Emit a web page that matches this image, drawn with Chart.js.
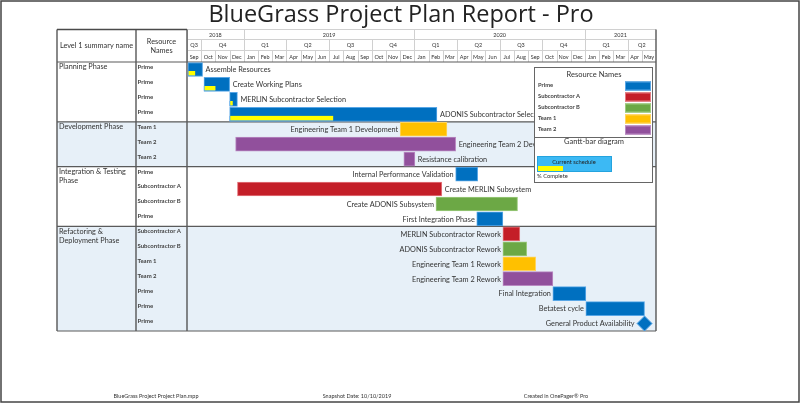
<!DOCTYPE html>
<html>
<head>
<meta charset="utf-8">
<script src="https://cdn.jsdelivr.net/npm/chart.js@4.4.1/dist/chart.umd.min.js"></script>
<style>
  html, body { margin: 0; padding: 0; background: #fff; }
  #wrap { width: 800px; height: 403px; }
</style>
</head>
<body>
<div id="wrap"><canvas id="gantt" width="800" height="403"></canvas></div>
<script>
// --- data ---
const phaseNames = ["Planning Phase", "Development Phase", "Integration & Testing Phase", "Refactoring & Deployment Phase"];
const phaseRowCounts = [4, 3, 4, 7];

const taskNames = [
  "Assemble Resources", "Create Working Plans", "MERLIN Subcontractor Selection", "ADONIS Subcontractor Selection",
  "Engineering Team 1 Development", "Engineering Team 2 Development", "Resistance calibration",
  "Internal Performance Validation", "Create MERLIN Subsystem", "Create ADONIS Subsystem", "First Integration Phase",
  "MERLIN Subcontractor Rework", "ADONIS Subcontractor Rework", "Engineering Team 1 Rework", "Engineering Team 2 Rework",
  "Final Integration", "Betatest cycle", "General Product Availability"
];
const taskResources = [
  "Prime", "Prime", "Prime", "Prime",
  "Team 1", "Team 2", "Team 2",
  "Prime", "Subcontractor A", "Subcontractor B", "Prime",
  "Subcontractor A", "Subcontractor B", "Team 1", "Team 2", "Prime", "Prime", "Prime"
];
const taskStarts = [
  "2018-09-03", "2018-10-07", "2018-12-01", "2018-12-01",
  "2019-12-01", "2018-12-14", "2019-12-09",
  "2020-03-29", "2018-12-18", "2020-02-16", "2020-05-13",
  "2020-07-08", "2020-07-08", "2020-07-08", "2020-07-08", "2020-10-24", "2021-01-03", "2021-05-07"
];
const taskEnds = [
  "2018-10-04", "2018-12-01", "2018-12-18", "2020-02-18",
  "2020-03-10", "2020-03-29", "2020-01-02",
  "2020-05-15", "2020-02-28", "2020-08-09", "2020-07-08",
  "2020-08-14", "2020-08-29", "2020-09-17", "2020-10-24", "2021-01-03", "2021-05-07", "2021-05-07"
];
const taskComplete = [50, 45, 40, 50, 0, 0, 0, 0, 0, 0, 0, 0, 0, 0, 0, 0, 0, 0];
// which side of the bar the task name is written on
const labelSide = ["r", "r", "r", "r", "l", "r", "r", "l", "r", "l", "l", "l", "l", "l", "l", "l", "l", "l"];

const resourceNames = ["Prime", "Subcontractor A", "Subcontractor B", "Team 1", "Team 2"];
const resourceColors = ["#0070C0", "#C41E28", "#6CA845", "#FFC000", "#91509C"];
const resourceBorders = ["#58A6E6", "#E57A80", "#9DCB7E", "#FFD45C", "#B98AC2"];

const yearLabels = ["2018", "2019", "2020", "2021"];
const yearSpans = [4, 12, 12, 5];
const quarterLabels = ["Q3", "Q4", "Q1", "Q2", "Q3", "Q4", "Q1", "Q2", "Q3", "Q4", "Q1", "Q2"];
const quarterSpans = [1, 3, 3, 3, 3, 3, 3, 3, 3, 3, 3, 2];
const monthLabels = [
  "Sep", "Oct", "Nov", "Dec",
  "Jan", "Feb", "Mar", "Apr", "May", "Jun", "Jul", "Aug", "Sep", "Oct", "Nov", "Dec",
  "Jan", "Feb", "Mar", "Apr", "May", "Jun", "Jul", "Aug", "Sep", "Oct", "Nov", "Dec",
  "Jan", "Feb", "Mar", "Apr", "May"
];

const footerTexts = ["BlueGrass Project Project Plan.mpp", "Snapshot Date: 10/10/2019", "Created in OnePager\u00AE Pro"];

// months counted from 1 Sep 2018
function toMonth(s) {
  const [y, m, d] = s.split("-").map(Number);
  const dim = new Date(y, m, 0).getDate();
  return (y - 2018) * 12 + (m - 9) + (d - 1) / dim;
}

const FONT = "Lato, 'Open Sans', sans-serif";
const TXT = "#333";

const barData = [];
const barColors = [];
const barBorders = [];
const doneData = [];
const doneBorders = [];
const mileData = [];
taskNames.forEach((name, i) => {
  const s = toMonth(taskStarts[i]);
  const e = toMonth(taskEnds[i]);
  const r = resourceNames.indexOf(taskResources[i]);
  barColors.push(resourceColors[r]);
  barBorders.push(resourceBorders[r]);
  if (s === e) {
    barData.push(null);
    mileData.push({ x: s, y: i });
  } else {
    barData.push([s, e]);
  }
  if (taskComplete[i] > 0) {
    doneData.push({ x: [s, s + (e - s) * taskComplete[i] / 100], y: i + 0.27 });
    doneBorders.push(resourceBorders[r]);
  }
});

function rowTop(chart, i) {
  return chart.scales.y.getPixelForValue(i - 0.5);
}

function wrapText(ctx, text, maxW) {
  const words = text.split(" ");
  const lines = [];
  let line = "";
  words.forEach(w => {
    const t = line ? line + " " + w : w;
    if (ctx.measureText(t).width > maxW && line) {
      lines.push(line);
      line = w;
    } else line = t;
  });
  lines.push(line);
  return lines;
}

const colL = 57, colM = 136;

const tablePlugin = {
  id: "table",
  beforeDraw(chart) {
    const ctx = chart.ctx;
    const area = chart.chartArea;
    const x = chart.scales.x;
    ctx.save();
    ctx.fillStyle = "#fff";
    ctx.fillRect(0, 0, chart.width, chart.height);

    // shaded phases
    let row = 0;
    phaseRowCounts.forEach((n, p) => {
      if (p % 2 === 1) {
        ctx.fillStyle = "#E7F0F8";
        const t = rowTop(chart, row), b = rowTop(chart, row + n);
        ctx.fillRect(colL, t, area.right - colL, b - t);
      }
      row += n;
    });

    // timeline header
    const hTop = 29.5, h1 = 39.5, h2 = 50.5, hBot = area.top;
    ctx.strokeStyle = "#D0D0D0";
    ctx.lineWidth = 1;
    ctx.fillStyle = TXT;
    ctx.textAlign = "center";
    ctx.textBaseline = "middle";
    ctx.font = "5.5px " + FONT;
    const drawBand = (labels, spans, y0, y1) => {
      let m = 0;
      labels.forEach((lab, k) => {
        const a = x.getPixelForValue(m), b = x.getPixelForValue(m + spans[k]);
        ctx.beginPath();
        ctx.moveTo(Math.round(a) + 0.5, y0);
        ctx.lineTo(Math.round(a) + 0.5, y1);
        ctx.stroke();
        ctx.fillText(lab, (a + b) / 2, (y0 + y1) / 2 + 0.5);
        m += spans[k];
      });
    };
    drawBand(yearLabels, yearSpans, hTop, h1);
    drawBand(quarterLabels, quarterSpans, h1, h2);
    drawBand(monthLabels, monthLabels.map(() => 1), h2, hBot);
    [hTop, h1, h2].forEach(yy => {
      ctx.beginPath();
      ctx.moveTo(area.left, yy);
      ctx.lineTo(area.right, yy);
      ctx.stroke();
    });

    // left header
    ctx.font = "7.3px " + FONT;
    ctx.fillText("Level 1 summary name", (colL + colM) / 2, 46);
    ctx.fillText("Resource", (colM + area.left) / 2, 41.5);
    ctx.fillText("Names", (colM + area.left) / 2, 51);

    // phase names and resource names
    ctx.textAlign = "left";
    row = 0;
    phaseRowCounts.forEach((n, p) => {
      ctx.font = "7.3px " + FONT;
      const lines = wrapText(ctx, phaseNames[p], 74);
      const t = rowTop(chart, row);
      lines.forEach((ln, k) => ctx.fillText(ln, colL + 2, t + 5 + k * 9.5));
      row += n;
    });
    ctx.font = "bold 6px " + FONT;
    ctx.fillStyle = "#444";
    taskResources.forEach((r, i) => {
      ctx.fillText(r, colM + 1.5, chart.scales.y.getPixelForValue(i) - 2.5);
    });

    // table lines
    ctx.strokeStyle = "#4A4A4A";
    ctx.lineWidth = 1.3;
    ctx.beginPath();
    [colL, colM, area.left].forEach(xx => {
      ctx.moveTo(xx, hTop);
      ctx.lineTo(xx, area.bottom);
    });
    ctx.moveTo(colL, hTop);
    ctx.lineTo(area.left, hTop);
    ctx.moveTo(area.right, hTop);
    ctx.lineTo(area.right, area.bottom);
    ctx.stroke();
    ctx.strokeStyle = "#5A5A5A";
    ctx.lineWidth = 1.2;
    ctx.beginPath();
    row = 0;
    ctx.moveTo(colL, area.top);
    ctx.lineTo(area.right, area.top);
    phaseRowCounts.forEach(n => {
      row += n;
      const yy = rowTop(chart, row);
      ctx.moveTo(colL, yy);
      ctx.lineTo(area.right, yy);
    });
    ctx.stroke();
    ctx.restore();
  },
  afterDatasetsDraw(chart) {
    const ctx = chart.ctx;
    const bars = chart.getDatasetMeta(0).data;
    const miles = chart.getDatasetMeta(2).data;
    ctx.save();
    ctx.font = "7.3px " + FONT;
    ctx.fillStyle = TXT;
    ctx.textBaseline = "middle";
    let mk = 0;
    taskNames.forEach((name, i) => {
      let left, right, yy;
      if (barData[i]) {
        const el = bars[i];
        left = Math.min(el.x, el.base);
        right = Math.max(el.x, el.base);
        yy = el.y;
      } else {
        const el = miles[mk++];
        left = el.x - 8;
        right = el.x + 8;
        yy = el.y;
      }
      if (labelSide[i] === "r") {
        ctx.textAlign = "left";
        ctx.fillText(name, right + 3, yy + 0.5);
      } else {
        ctx.textAlign = "right";
        ctx.fillText(name, left - 2, yy + 0.5);
      }
    });
    ctx.restore();
  },
  afterDraw(chart) {
    const ctx = chart.ctx;
    ctx.save();
    // title
    ctx.fillStyle = "#222";
    ctx.font = "23.5px 'Open Sans', sans-serif";
    ctx.textAlign = "center";
    ctx.textBaseline = "middle";
    ctx.fillText("BlueGrass Project Plan Report - Pro", 401, 15.5);

    // legend box
    const lx = 534.5, lw = 118, ly = 67.5, lm = 137.5, lb = 182.5;
    ctx.fillStyle = "#fff";
    ctx.fillRect(lx, ly, lw, lb - ly);
    ctx.strokeStyle = "#666";
    ctx.lineWidth = 1;
    ctx.strokeRect(lx, ly, lw, lm - ly);
    ctx.strokeRect(lx, lm, lw, lb - lm);
    ctx.fillStyle = TXT;
    ctx.font = "7.5px " + FONT;
    ctx.fillText("Resource Names", 594, 75);
    ctx.fillText("Gantt-bar diagram", 594, 142);
    ctx.textAlign = "left";
    resourceNames.forEach((r, k) => {
      const yy = 86 + k * 11;
      ctx.font = "bold 5.8px " + FONT;
      ctx.fillStyle = "#444";
      ctx.fillText(r, 538, yy - 1);
      ctx.fillStyle = resourceColors[k];
      ctx.fillRect(625, yy - 4.5, 26, 9);
      ctx.strokeStyle = resourceBorders[k];
      ctx.strokeRect(625.5, yy - 4, 25, 8);
    });
    ctx.fillStyle = "#3CB9F4";
    ctx.fillRect(537, 156, 75, 16);
    ctx.strokeStyle = "#24A3DE";
    ctx.strokeRect(537.5, 156.5, 74, 15);
    ctx.fillStyle = "#FFFF00";
    ctx.fillRect(538, 166, 25, 5);
    ctx.fillStyle = "#222";
    ctx.font = "5.8px " + FONT;
    ctx.textAlign = "center";
    ctx.fillText("Current schedule", 574, 162);
    ctx.textAlign = "left";
    ctx.fillStyle = TXT;
    ctx.fillText("% Complete", 537, 176.5);

    // footer
    ctx.textAlign = "center";
    ctx.font = "5.5px " + FONT;
    ctx.fillStyle = "#333";
    [156, 357, 556].forEach((fx, k) => ctx.fillText(footerTexts[k], fx, 396.5));

    // outer frame
    ctx.strokeStyle = "#444";
    ctx.lineWidth = 1.5;
    ctx.strokeRect(1, 1, 798, 401);
    ctx.restore();
  }
};

new Chart(document.getElementById("gantt"), {
  type: "bar",
  data: {
    labels: taskNames,
    datasets: [
      {
        label: "Current schedule",
        data: barData,
        yAxisID: "y",
        backgroundColor: barColors,
        borderColor: barBorders,
        borderWidth: 1,
        borderSkipped: false,
        barThickness: 14,
        grouped: false,
        order: 2
      },
      {
        label: "% Complete",
        data: doneData,
        yAxisID: "yp",
        backgroundColor: "#FFFF00",
        borderColor: doneBorders,
        borderWidth: { left: 1, bottom: 1, top: 0, right: 0 },
        borderSkipped: false,
        barThickness: 5,
        grouped: false,
        order: 1
      },
      {
        type: "scatter",
        label: "Milestone",
        data: mileData,
        xAxisID: "x",
        yAxisID: "yp",
        pointStyle: "rectRot",
        pointRadius: 7.5,
        backgroundColor: "#0070C0",
        borderColor: "#58A6E6",
        borderWidth: 1,
        order: 0
      }
    ]
  },
  options: {
    indexAxis: "y",
    responsive: false,
    animation: false,
    events: [],
    layout: { padding: { left: 187, right: 144, top: 62, bottom: 72 } },
    scales: {
      x: { type: "linear", min: 0, max: 33, display: false },
      y: { type: "category", display: false },
      yp: { type: "linear", min: -0.5, max: 17.5, reverse: true, offset: false, grid: { offset: false }, display: false }
    },
    plugins: {
      legend: { display: false },
      title: { display: false },
      tooltip: { enabled: false }
    }
  },
  plugins: [tablePlugin]
});
</script>
</body>
</html>
